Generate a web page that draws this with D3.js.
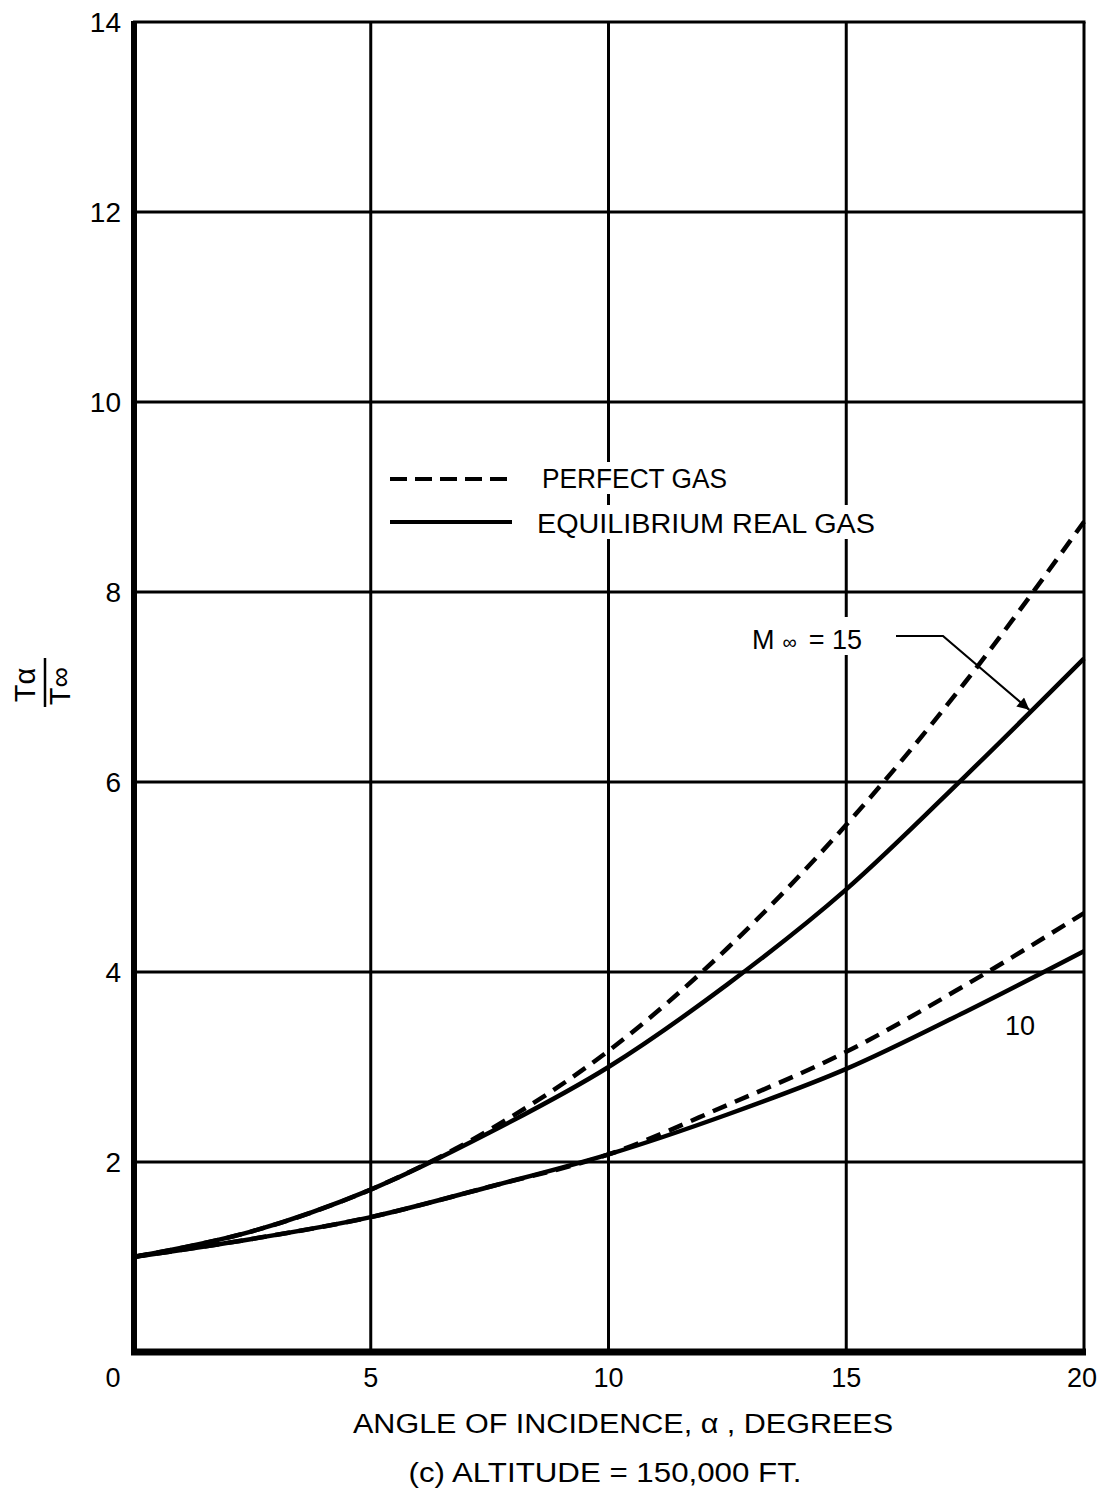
<!DOCTYPE html>
<html>
<head>
<meta charset="utf-8">
<script src="https://cdn.jsdelivr.net/npm/d3@7"></script>
<style>
  html, body { margin: 0; padding: 0; background: #fff; }
  svg { display: block; }
  text { font-family: "Liberation Sans", Arial, sans-serif; fill: #000; }
</style>
</head>
<body>
<svg id="chart" width="1107" height="1491"></svg>
<script>
// ---- data ----
const alpha = [0, 2.5, 5, 7.5, 10, 12.5, 15, 17.5, 20];
const m15Real    = [1.0, 1.27, 1.71, 2.31, 3.0, 3.87, 4.87, 6.06, 7.3];
const m15Perfect = [1.0, 1.27, 1.71, 2.34, 3.17, 4.25, 5.55, 7.05, 8.74];
const m10Real    = [1.0, 1.19, 1.42, 1.74, 2.08, 2.5, 2.98, 3.58, 4.22];
const m10Perfect = [1.0, 1.19, 1.42, 1.74, 2.08, 2.6, 3.16, 3.86, 4.62];
const xTicks = [0, 5, 10, 15, 20];
const yTicks = [2, 4, 6, 8, 10, 12, 14];
const legendLabels = ["PERFECT GAS", "EQUILIBRIUM REAL GAS"];
const xTitle = "ANGLE OF INCIDENCE, α , DEGREES";
const subTitle = "(c)  ALTITUDE = 150,000 FT.";
const arrowTarget = [18.85, 6.76]; // point on the M=15 real-gas curve

const svg = d3.select("#chart");
const x = d3.scaleLinear().domain([0, 20]).range([133, 1084]);
const y = d3.scaleLinear().domain([0, 14]).range([1352, 22]);

// grid
const grid = svg.append("g").attr("stroke", "#000").attr("stroke-width", 3);
grid.selectAll("line.h").data(yTicks.filter(d => d < 14)).enter().append("line")
  .attr("x1", x(0)).attr("x2", x(20)).attr("y1", d => y(d)).attr("y2", d => y(d));
grid.selectAll("line.v").data(xTicks.filter(d => d > 0 && d < 20)).enter().append("line")
  .attr("y1", y(0)).attr("y2", y(14)).attr("x1", d => x(d)).attr("x2", d => x(d));
// top & right border
grid.append("line").attr("x1", x(0)).attr("x2", x(20) + 1.5).attr("y1", y(14)).attr("y2", y(14));
grid.append("line").attr("x1", x(20)).attr("x2", x(20)).attr("y1", y(14)).attr("y2", y(0));
// thick left & bottom axes
svg.append("line").attr("x1", x(0) + 1).attr("x2", x(0) + 1).attr("y1", y(14) - 1).attr("y2", y(0) + 3)
  .attr("stroke", "#000").attr("stroke-width", 6);
svg.append("line").attr("x1", x(0) - 2).attr("x2", x(20) + 2).attr("y1", y(0)).attr("y2", y(0))
  .attr("stroke", "#000").attr("stroke-width", 7);

// tick labels
svg.append("g").selectAll("text").data(yTicks).enter().append("text")
  .attr("x", 121).attr("y", d => y(d)).attr("dy", "0.36em")
  .attr("text-anchor", "end").attr("font-size", 28).text(d => d);
svg.append("g").selectAll("text").data(xTicks).enter().append("text")
  .attr("x", d => d === 0 ? 113 : (d === 20 ? 1082 : x(d))).attr("y", 1387)
  .attr("text-anchor", "middle").attr("font-size", 27).text(d => d);

// axis titles
svg.append("text").attr("x", 623).attr("y", 1433).attr("text-anchor", "middle")
  .attr("font-size", 27).attr("textLength", 540).attr("lengthAdjust", "spacingAndGlyphs").text(xTitle);
svg.append("text").attr("x", 605).attr("y", 1482).attr("text-anchor", "middle")
  .attr("font-size", 27).attr("textLength", 393).attr("lengthAdjust", "spacingAndGlyphs").text(subTitle);

// y-axis label (fraction, rotated)
svg.append("text").attr("transform", "translate(35,685) rotate(-90)")
  .attr("text-anchor", "middle").attr("font-size", 29).text("Tα");
svg.append("line").attr("x1", 45).attr("x2", 45).attr("y1", 658).attr("y2", 707)
  .attr("stroke", "#000").attr("stroke-width", 2.5);
svg.append("text").attr("transform", "translate(70,686) rotate(-90)")
  .attr("text-anchor", "middle").attr("font-size", 29).text("T∞");

// legend (white boxes break the grid lines)
const leg = svg.append("g");
leg.append("rect").attr("x", 534).attr("y", 462).attr("width", 200).attr("height", 32).attr("fill", "#fff");
leg.append("rect").attr("x", 530).attr("y", 505).attr("width", 352).attr("height", 34).attr("fill", "#fff");
leg.append("line").attr("x1", 390).attr("x2", 512).attr("y1", 479).attr("y2", 479)
  .attr("stroke", "#000").attr("stroke-width", 4).attr("stroke-dasharray", "17,8");
leg.append("line").attr("x1", 390).attr("x2", 512).attr("y1", 522).attr("y2", 522)
  .attr("stroke", "#000").attr("stroke-width", 4);
leg.append("text").attr("x", 542).attr("y", 488).attr("font-size", 27)
  .attr("textLength", 185).attr("lengthAdjust", "spacingAndGlyphs").text(legendLabels[0]);
leg.append("text").attr("x", 537).attr("y", 533).attr("font-size", 27)
  .attr("textLength", 338).attr("lengthAdjust", "spacingAndGlyphs").text(legendLabels[1]);

// curves
const line = d3.line().x((d, i) => x(alpha[i])).y(d => y(d)).curve(d3.curveMonotoneX);
const curves = svg.append("g").attr("fill", "none").attr("stroke", "#000").attr("stroke-width", 4.5)
  .attr("stroke-linecap", "butt");
curves.append("path").attr("d", line(m10Real));
curves.append("path").attr("d", line(m15Real));
curves.append("path").attr("d", line(m10Perfect)).attr("stroke-dasharray", "15,9");
curves.append("path").attr("d", line(m15Perfect)).attr("stroke-dasharray", "15,9");

// M∞ = 15 label with leader arrow
svg.append("rect").attr("x", 745).attr("y", 617).attr("width", 145).attr("height", 38).attr("fill", "#fff");
const lab = svg.append("text").attr("x", 752).attr("y", 649).attr("font-size", 27);
lab.append("tspan").text("M");
lab.append("tspan").attr("font-size", 20).attr("dx", 8).text("∞");
lab.append("tspan").attr("dx", 12).text("= 15");
svg.append("defs").append("marker").attr("id", "arr")
  .attr("viewBox", "0 0 10 10").attr("refX", 10).attr("refY", 5)
  .attr("markerWidth", 22).attr("markerHeight", 12).attr("markerUnits", "userSpaceOnUse")
  .attr("orient", "auto")
  .append("path").attr("d", "M0,0 L10,5 L0,10 Z").attr("fill", "#000");
svg.append("path")
  .attr("d", `M896,636 L943,636 L${x(arrowTarget[0])},${y(arrowTarget[1])}`)
  .attr("fill", "none").attr("stroke", "#000").attr("stroke-width", 2.2)
  .attr("marker-end", "url(#arr)");

// "10" label
svg.append("text").attr("x", 1020).attr("y", 1035).attr("text-anchor", "middle")
  .attr("font-size", 27).text("10");
</script>
</body>
</html>
